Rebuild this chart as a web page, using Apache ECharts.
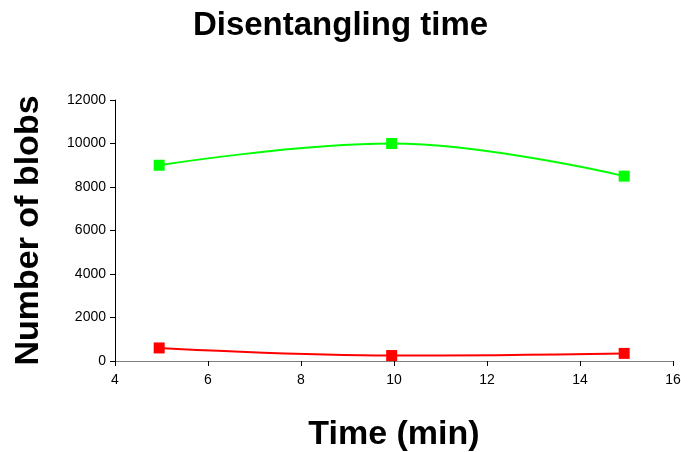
<!DOCTYPE html>
<html><head><meta charset="utf-8">
<script src="https://cdn.jsdelivr.net/npm/echarts@6/dist/echarts.min.js"></script>
<style>html,body{margin:0;padding:0;background:#fff}#c{width:681px;height:452px}</style>
</head><body><div id="c"></div>
<script>
const timesMin = [4.95, 9.95, 14.95];
const greenBlobs = [9000, 10000, 8500];
const redBlobs = [600, 250, 350];
const xTicks = [4, 6, 8, 10, 12, 14, 16];
const yTicks = [0, 2000, 4000, 6000, 8000, 10000, 12000];

const chart = echarts.init(document.getElementById('c'), null, {renderer: 'canvas'});
const font = 'Arial, "Liberation Sans", sans-serif';
chart.setOption({
  animation: false,
  backgroundColor: '#fff',
  title: {text: 'Disentangling time', left: 'center', top: 4,
    textStyle: {fontFamily: font, fontSize: 33, fontWeight: 'bold', color: '#000'}},
  grid: {left: 115, right: 8, top: 100, bottom: 91, containLabel: false, outerBoundsMode: 'none'},
  xAxis: {type: 'value', min: xTicks[0], max: xTicks[xTicks.length-1], interval: 2,
    name: 'Time (min)', nameLocation: 'middle', nameGap: 57,
    nameTextStyle: {fontFamily: font, fontSize: 34, fontWeight: 'bold', color: '#000'},
    axisLine: {show: true, onZero: false, lineStyle: {color: '#808080', width: 1}},
    axisTick: {show: true, length: 5, lineStyle: {color: '#000'}},
    axisLabel: {fontFamily: font, fontSize: 14, color: '#000', margin: 12},
    splitLine: {show: false}},
  yAxis: {type: 'value', min: yTicks[0], max: yTicks[yTicks.length-1], interval: 2000,
    name: 'Number of blobs', nameLocation: 'middle', nameGap: 69,
    nameTextStyle: {fontFamily: font, fontSize: 34, fontWeight: 'bold', color: '#000'},
    axisLine: {show: true, lineStyle: {color: '#000', width: 1}},
    axisTick: {show: true, length: 5, lineStyle: {color: '#000'}},
    axisLabel: {fontFamily: font, fontSize: 14, color: '#000', margin: 9,
      formatter: v => String(v)},
    splitLine: {show: false}},
  series: [
    {type: 'line', data: timesMin.map((t,i)=>[t, greenBlobs[i]]), smooth: 0.4,
     symbol: 'rect', symbolSize: 11, lineStyle: {color: '#00ff00', width: 2},
     itemStyle: {color: '#00ff00'}},
    {type: 'line', data: timesMin.map((t,i)=>[t, redBlobs[i]]), smooth: 0.4,
     symbol: 'rect', symbolSize: 11, lineStyle: {color: '#ff0000', width: 2},
     itemStyle: {color: '#ff0000'}}
  ]
});
</script></body></html>
